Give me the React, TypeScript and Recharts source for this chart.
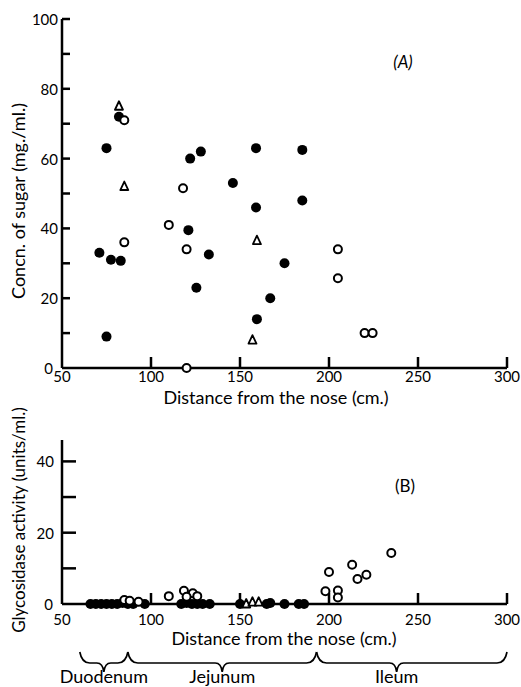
import React from "react";
import { ScatterChart, Scatter, XAxis, YAxis, Label } from "recharts";

// axis ticks
const distTicks = [50, 100, 150, 200, 250, 300];
const sugarTicks = [0, 10, 20, 30, 40, 50, 60, 70, 80, 90, 100];
const sugarLabels = [0, 20, 40, 60, 80, 100];
const enzymeTicks = [0, 10, 20, 30, 40];
const enzymeLabels = [0, 20, 40];

// (A) concentration of sugar
const sugarFilled = [
  { x: 75, y: 63 }, { x: 82, y: 72 }, { x: 122, y: 60 }, { x: 128, y: 62 },
  { x: 146, y: 53 }, { x: 159, y: 63 }, { x: 159, y: 46 }, { x: 185, y: 62.5 },
  { x: 185, y: 48 }, { x: 121, y: 39.5 }, { x: 71, y: 33 }, { x: 77.5, y: 31 },
  { x: 83, y: 30.7 }, { x: 132.5, y: 32.5 }, { x: 125.5, y: 23 }, { x: 75, y: 9 },
  { x: 175, y: 30 }, { x: 167, y: 20 }, { x: 159.5, y: 14 },
];
const sugarOpen = [
  { x: 85, y: 71 }, { x: 118, y: 51.5 }, { x: 110, y: 41 }, { x: 85, y: 36 },
  { x: 120, y: 34 }, { x: 120, y: 0 }, { x: 205, y: 34 }, { x: 205, y: 25.7 },
  { x: 220, y: 10 }, { x: 224.5, y: 10 },
];
const sugarTri = [
  { x: 82, y: 75 }, { x: 85, y: 52 }, { x: 159.5, y: 36.5 }, { x: 157, y: 8 },
];

// (B) glycosidase activity
const enzFilled = [
  { x: 66, y: 0 }, { x: 69, y: 0 }, { x: 72, y: 0 }, { x: 75, y: 0 }, { x: 78, y: 0 },
  { x: 81, y: 0 }, { x: 84, y: 0.3 }, { x: 87, y: 0 }, { x: 90, y: 0 }, { x: 96.5, y: 0 },
  { x: 117, y: 0 }, { x: 120, y: 0.3 }, { x: 123, y: 0 }, { x: 126, y: 0 }, { x: 129, y: 0 },
  { x: 133, y: 0 }, { x: 150, y: 0 }, { x: 165, y: 0 }, { x: 167, y: 0.3 }, { x: 175, y: 0 },
  { x: 183, y: 0 }, { x: 186, y: 0 },
];
const enzOpen = [
  { x: 85, y: 1.1 }, { x: 88, y: 0.9 }, { x: 93, y: 0.6 }, { x: 110, y: 2.2 },
  { x: 118.5, y: 3.7 }, { x: 123.5, y: 3 }, { x: 120, y: 2 }, { x: 126, y: 2.2 },
  { x: 200, y: 9 }, { x: 198, y: 3.6 }, { x: 205, y: 3.8 }, { x: 205, y: 1.8 },
  { x: 213, y: 11 }, { x: 216, y: 7 }, { x: 221, y: 8.2 }, { x: 235, y: 14.3 },
];
const enzTri = [{ x: 153.5, y: 0 }, { x: 157, y: 0.5 }, { x: 160.5, y: 0.5 }];

// gut regions along the x axis
const regions = [
  { name: "Duodenum", from: 60, to: 87, tip: 73.5 },
  { name: "Jejunum", from: 87, to: 193, tip: 140 },
  { name: "Ileum", from: 193, to: 300, tip: 238 },
];

const INK = "#000";
const FONT = "Lato, 'Open Sans', sans-serif";
const AXIS_X = 62; // left edge of both plots

const dot = (p: any) => <circle cx={p.cx} cy={p.cy} r={5} fill={INK} />;
const ring = (p: any) => (
  <circle cx={p.cx} cy={p.cy} r={4} fill="#fff" stroke={INK} strokeWidth={2} />
);
const tri = (p: any) => (
  <path
    d={`M${p.cx},${p.cy - 5} L${p.cx + 4},${p.cy + 3.5} L${p.cx - 4},${p.cy + 3.5} Z`}
    fill="#fff"
    stroke={INK}
    strokeWidth={1.8}
    strokeLinejoin="round"
  />
);

const yTick = (labels: number[], len: number, gap: number) => (p: any) => {
  const v = p.payload.value;
  // the zero label sits a little further left, clear of the x labels
  const g = v === 0 ? Math.max(gap, 9) : gap;
  return (
    <g>
      {v !== 0 && (
        <line x1={AXIS_X} x2={AXIS_X + len} y1={p.y} y2={p.y} stroke={INK} strokeWidth={2.5} />
      )}
      {labels.includes(v) && (
        <text x={AXIS_X - g} y={p.y} textAnchor="end" dominantBaseline="central"
          fontSize={15} fill={INK} fontFamily={FONT}>
          {v}
        </text>
      )}
    </g>
  );
};

const xTick = (axisY: number, dy: number) => (p: any) => {
  const v = p.payload.value;
  return (
    <g>
      {v !== 50 && (
        <line x1={p.x} x2={p.x} y1={axisY} y2={axisY - 11} stroke={INK} strokeWidth={2.5} />
      )}
      <text x={p.x} y={axisY + dy} textAnchor="middle" fontSize={15} fill={INK} fontFamily={FONT}>
        {v}
      </text>
    </g>
  );
};

const axisLine = { stroke: INK, strokeWidth: 2.5 };

const sx = (v: number) => 62 + ((v - 50) / 250) * 445;

function Brace({ from, to, tip }: { from: number; to: number; tip: number }) {
  const a = sx(from), b = sx(to), t = sx(tip);
  const top = 652, mid = 663, low = 672;
  const d = `M${a},${top} Q${a + 2},${mid} ${a + 10},${mid} L${t - 7},${mid} Q${t - 1},${mid} ${t},${low} Q${t + 1},${mid} ${t + 7},${mid} L${b - 10},${mid} Q${b - 2},${mid} ${b},${top}`;
  return <path d={d} fill="none" stroke={INK} strokeWidth={1.7} />;
}

export default function App() {
  return (
    <div style={{ position: "absolute", left: 0, top: 0, width: 521, height: 687, background: "#fff", overflow: "hidden", fontFamily: FONT }}>
      <div style={{ position: "absolute", left: 0, top: 0 }}>
        <ScatterChart width={521} height={410} margin={{ top: 19, right: 14, bottom: 6, left: 12 }}>
          <XAxis type="number" dataKey="x" domain={[50, 300]} ticks={distTicks} interval={0}
            height={36} tickSize={0} tickMargin={0} tickLine={false} axisLine={axisLine} tick={xTick(368, 14)}>
            <Label content={() => (
              <text x={276} y={404} textAnchor="middle" fontSize={18} fill={INK} fontFamily={FONT}>
                Distance from the nose (cm.)
              </text>
            )} />
            <Label content={() => (
              <text x={403} y={61} textAnchor="middle" dominantBaseline="central" fontSize={17}
                fontStyle="italic" fill={INK} fontFamily={FONT}>
                (A)
              </text>
            )} />
          </XAxis>
          <YAxis type="number" dataKey="y" domain={[0, 100]} ticks={sugarTicks} interval={0}
            width={50} tickSize={0} tickMargin={0} tickLine={false} axisLine={axisLine}
            tick={yTick(sugarLabels, 8, 4)}>
            <Label content={() => (
              <text x={18} y={201} transform="rotate(-90 18 201)" textAnchor="middle"
                dominantBaseline="central" fontSize={18} fill={INK} fontFamily={FONT}>
                Concn. of sugar (mg./ml.)
              </text>
            )} />
          </YAxis>
          <Scatter data={sugarFilled} shape={dot} isAnimationActive={false} />
          <Scatter data={sugarOpen} shape={ring} isAnimationActive={false} />
          <Scatter data={sugarTri} shape={tri} isAnimationActive={false} />
        </ScatterChart>
      </div>
      <div style={{ position: "absolute", left: 0, top: 396 }}>
        <ScatterChart width={521} height={264} margin={{ top: 44, right: 14, bottom: 14, left: 12 }}>
          <XAxis type="number" dataKey="x" domain={[50, 300]} ticks={distTicks} interval={0}
            height={42} tickSize={0} tickMargin={0} tickLine={false} axisLine={axisLine} tick={xTick(208, 21)}>
            <Label content={() => (
              <text x={284} y={249} textAnchor="middle" fontSize={18} fill={INK} fontFamily={FONT}>
                Distance from the nose (cm.)
              </text>
            )} />
            <Label content={() => (
              <text x={405} y={89} textAnchor="middle" dominantBaseline="central" fontSize={17}
                fill={INK} fontFamily={FONT}>
                (B)
              </text>
            )} />
          </XAxis>
          <YAxis type="number" dataKey="y" domain={[0, 46]} ticks={enzymeTicks} interval={0}
            width={50} tickSize={0} tickMargin={0} tickLine={false} axisLine={axisLine}
            tick={yTick(enzymeLabels, 14, 8)}>
            <Label content={() => (
              <text x={18} y={124} transform="rotate(-90 18 124)" textAnchor="middle"
                dominantBaseline="central" fontSize={17} fill={INK} fontFamily={FONT}>
                Glycosidase activity (units/ml.)
              </text>
            )} />
          </YAxis>
          <Scatter data={enzFilled} shape={dot} isAnimationActive={false} />
          <Scatter data={enzOpen} shape={ring} isAnimationActive={false} />
          <Scatter data={enzTri} shape={tri} isAnimationActive={false} />
        </ScatterChart>
      </div>
      <svg width={521} height={687} style={{ position: "absolute", left: 0, top: 0, pointerEvents: "none" }}>
        {regions.map((r) => (
          <g key={r.name}>
            <Brace from={r.from} to={r.to} tip={r.tip} />
            <text x={sx(r.tip)} y={683} textAnchor="middle" fontSize={18} fill={INK} fontFamily={FONT}>
              {r.name}
            </text>
          </g>
        ))}
      </svg>
    </div>
  );
}
